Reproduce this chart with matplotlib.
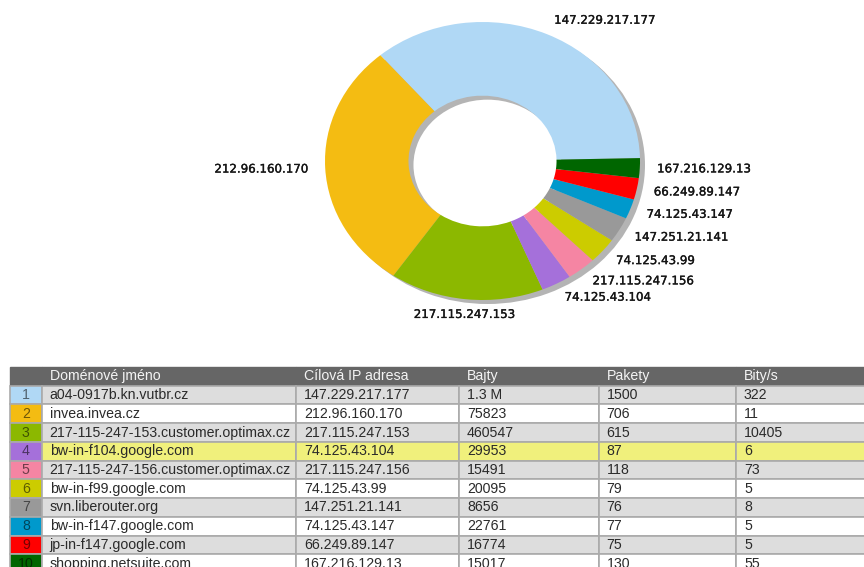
import matplotlib.pyplot as plt
import matplotlib.patheffects as pe
from matplotlib.transforms import ScaledTranslation
from matplotlib.colors import to_rgb

adresy = ["147.229.217.177", "212.96.160.170", "217.115.247.153", "74.125.43.104",
          "217.115.247.156", "74.125.43.99", "147.251.21.141", "74.125.43.147",
          "66.249.89.147", "167.216.129.13"]
domeny = ["a04-0917b.kn.vutbr.cz", "invea.invea.cz", "217-115-247-153.customer.optimax.cz",
          "bw-in-f104.google.com", "217-115-247-156.customer.optimax.cz", "bw-in-f99.google.com",
          "svn.liberouter.org", "bw-in-f147.google.com", "jp-in-f147.google.com",
          "shopping.netsuite.com"]
bajty = ["1.3 M", "75823", "460547", "29953", "15491", "20095", "8656", "22761", "16774", "15017"]
pakety = [1500, 706, 615, 87, 118, 79, 76, 77, 75, 130]
bity = [322, 11, 10405, 6, 73, 5, 8, 5, 5, 55]
# podil v grafu (odhad z obrazku, %)
podil = [35.9, 29.2, 15.8, 3.1, 3.0, 3.0, 2.9, 2.3, 2.5, 2.3]
barvy = ["#b0d8f5", "#f4bc12", "#8cb800", "#a570da", "#f585a3",
         "#cccc00", "#999999", "#0099cc", "#ff0000", "#006600"]
hlavicka = ["", "Doménové jméno", "Cílová IP adresa", "Bajty", "Pakety", "Bity/s"]

W, H = 864, 567
fig = plt.figure(figsize=(W / 100, H / 100), dpi=100)

# kolac (elipsa)
ax = fig.add_axes([167.5 / W, 246.15 / H, 630 / W, 319.7 / H])
stin = ax.pie([1], radius=1, colors=["#b4b4b4"], startangle=0,
              wedgeprops=dict(width=0.53, linewidth=0))
posun = ScaledTranslation(5 / 100, -4 / 100, fig.dpi_scale_trans)
for w in stin[0]:
    w.set_transform(ax.transData + posun)

kolace, popisky = ax.pie(podil, labels=adresy, colors=barvy, startangle=1.2,
                         counterclock=True, labeldistance=1.11, radius=1,
                         wedgeprops=dict(width=0.53, linewidth=0),
                         textprops=dict(fontsize=8.5, color="#151515"))
for t in popisky:
    x, y = t.get_position()
    if abs(x) < 0.25:
        t.set_ha("center")
    t.set_path_effects([pe.withStroke(linewidth=0.25, foreground="#151515")])
ax.set_aspect("auto")
ax.set_xlim(-2, 2)
ax.set_ylim(-1.15, 1.15)
ax.axis("off")

# tabulka
sirky = [31.7, 254.3, 163, 139.7, 137.3, 137]
celkem = sum(sirky)
tab_ax = fig.add_axes([10 / W, (H - 573) / H, celkem / W, 206 / H])
tab_ax.axis("off")
radky = [[str(i + 1), domeny[i], adresy[i], bajty[i], str(pakety[i]), str(bity[i])]
         for i in range(len(domeny))]
tab = tab_ax.table(cellText=radky, colLabels=hlavicka, colLoc="left",
                   colWidths=[s / celkem for s in sirky], bbox=[0, 0, 1, 1], cellLoc="left")
tab.auto_set_font_size(False)
tab.set_fontsize(10.2)

for (r, c), cell in tab.get_celld().items():
    txt = cell.get_text()
    txt.set_fontfamily("Liberation Sans")
    cell.PAD = 8 / sirky[c]
    if r == 0:
        cell.set_facecolor("#666666")
        cell.set_edgecolor("#666666")
        txt.set_color("#f4f4f4")
        continue
    cell.set_edgecolor("#aaaaaa")
    cell.set_linewidth(1.2)
    if c == 0:
        b = barvy[r - 1]
        cell.set_facecolor(b)
        txt.set_color(tuple(v * 0.45 for v in to_rgb(b)))
        txt.set_ha("center")
        cell._loc = "center"
    else:
        if r == 4:
            cell.set_facecolor("#f0f07c")
        elif r % 2 == 1:
            cell.set_facecolor("#dddddd")
        else:
            cell.set_facecolor("#ffffff")
        txt.set_color("#2a2a2a")

fig.savefig("out.png", dpi=100)
